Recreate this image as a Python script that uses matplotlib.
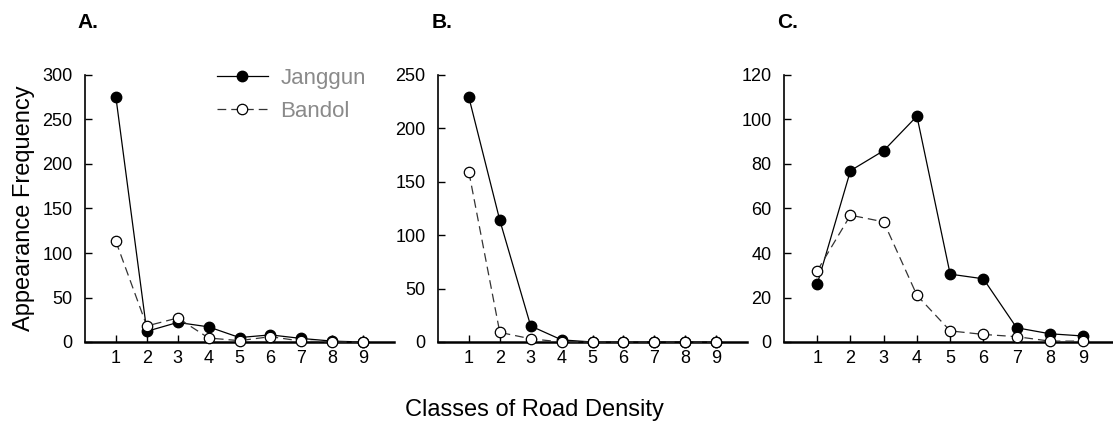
import matplotlib
matplotlib.use('Agg')
import matplotlib.pyplot as plt

plt.rcParams['font.family'] = ['Liberation Sans', 'DejaVu Sans']

# 道路密度等级
classes = [1, 2, 3, 4, 5, 6, 7, 8, 9]

# A
a_janggun = [275, 12, 22, 17, 5, 8, 4, 1, 0]
a_bandol = [113, 18, 27, 4.5, 1.5, 6, 1, 0, 0]

# B
b_janggun = [229, 114, 15, 2, 0, 0, 0, 0, 0]
b_bandol = [159, 9, 3, 0, 0, 0, 0, 0, 0]

# C
c_janggun = [26, 77, 86, 101.5, 30.5, 28.4, 6.4, 3.7, 2.7]
c_bandol = [32, 57, 54, 21, 5, 3.4, 2.4, 0.4, 0.4]

panels = [
    ('A.', a_janggun, a_bandol, 300, [0, 50, 100, 150, 200, 250, 300]),
    ('B.', b_janggun, b_bandol, 250, [0, 50, 100, 150, 200, 250]),
    ('C.', c_janggun, c_bandol, 120, [0, 20, 40, 60, 80, 100, 120]),
]

W, H = 1113, 425
fig = plt.figure(figsize=(W / 100, H / 100), dpi=100)

# 每个子图的像素位置: left, right, xmax
boxes = [(85, 394, 10), (438, 747, 10), (784, 1113, 9.9)]
title_x = [77, 432, 777]
y0, y1 = 342, 75

axes = []
for (name, jg, bd, ymax, yt), (l, r, xmax), tx in zip(panels, boxes, title_x):
    ax = fig.add_axes([l / W, (H - y0) / H, (r - l) / W, (y0 - y1) / H])
    ax.plot(classes, jg, '-', color='black', lw=0.9, marker='o', ms=7.5,
            mfc='black', mec='black', label='Janggun', clip_on=False, zorder=3)
    ax.plot(classes, bd, '--', color='#333333', lw=0.9, dashes=(7, 4),
            marker='o', ms=7.5, mfc='white', mec='black', mew=0.9,
            label='Bandol', clip_on=False, zorder=4)
    ax.set_xlim(0, xmax)
    ax.set_ylim(0, ymax)
    ax.set_xticks(classes)
    ax.set_yticks(yt)
    for s in ['top', 'right']:
        ax.spines[s].set_visible(False)
    ax.spines['bottom'].set_linewidth(1.8)
    ax.spines['left'].set_linewidth(1.2)
    ax.tick_params(axis='x', direction='in', length=5, width=1, labelsize=13, pad=6)
    ax.tick_params(axis='y', direction='in', length=5, width=1, labelsize=13, pad=9)
    fig.text(tx / W, 1 - 22 / H, name, fontsize=15, fontweight='bold', va='center')
    axes.append(ax)

axes[0].set_ylabel('Appearance Frequency', fontsize=17, labelpad=5)

leg = axes[0].legend(loc='upper left', bbox_to_anchor=(0.427, 1.027), frameon=False,
                     fontsize=16, handlelength=2.3, handletextpad=0.55,
                     labelspacing=0.55, borderpad=0, borderaxespad=0)
for t in leg.get_texts():
    t.set_color('#8a8a8a')

fig.text(534 / W, 1 - 410 / H, 'Classes of Road Density', fontsize=17,
         ha='center', va='center')

plt.savefig('out.png', dpi=100)
